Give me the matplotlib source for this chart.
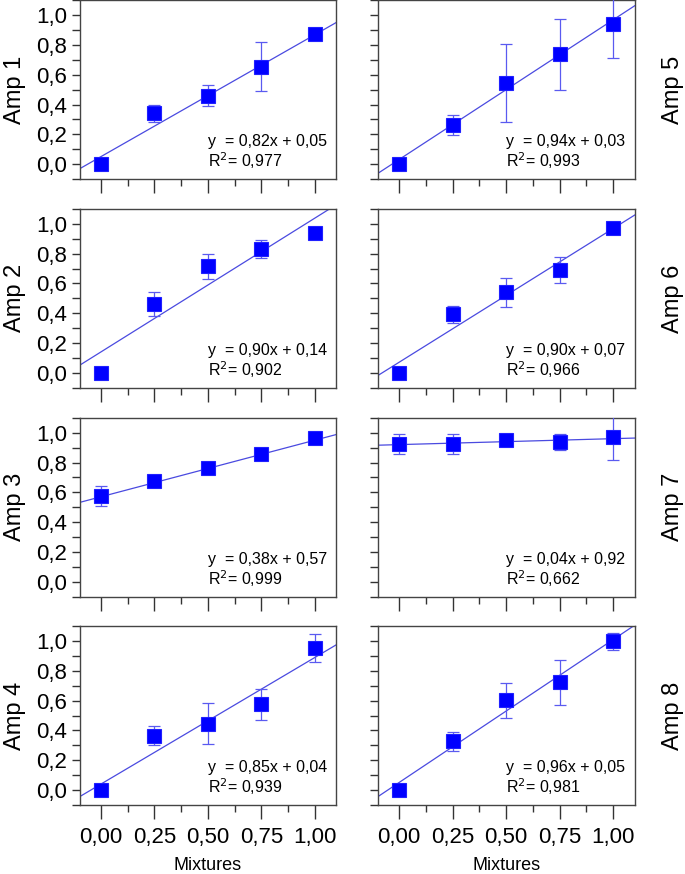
import matplotlib
matplotlib.use('Agg')
import matplotlib.pyplot as plt
from matplotlib.ticker import FixedLocator, MultipleLocator, FuncFormatter

plt.rcParams['font.family'] = ['Liberation Sans', 'DejaVu Sans']

mixtures = [0.0, 0.25, 0.5, 0.75, 1.0]
x_ticks = [0.0, 0.25, 0.5, 0.75, 1.0]
y_ticks = [0.0, 0.2, 0.4, 0.6, 0.8, 1.0]

amp_names = ['Amp 1', 'Amp 2', 'Amp 3', 'Amp 4', 'Amp 5', 'Amp 6', 'Amp 7', 'Amp 8']

amp1 = [0.0, 0.34, 0.46, 0.655, 0.875]
amp1_err = [0.0, 0.06, 0.07, 0.163, 0.04]
amp2 = [0.0, 0.462, 0.717, 0.834, 0.942]
amp2_err = [0.0, 0.083, 0.084, 0.06, 0.0]
amp3 = [0.575, 0.676, 0.765, 0.859, 0.962]
amp3_err = [0.065, 0.0, 0.0, 0.0, 0.0]
amp4 = [0.0, 0.365, 0.446, 0.574, 0.953]
amp4_err = [0.0, 0.065, 0.137, 0.104, 0.091]
amp5 = [0.0, 0.262, 0.547, 0.738, 0.94]
amp5_err = [0.0, 0.07, 0.262, 0.238, 0.23]
amp6 = [0.0, 0.392, 0.54, 0.691, 0.971]
amp6_err = [0.0, 0.056, 0.098, 0.09, 0.0]
amp7 = [0.922, 0.926, 0.951, 0.935, 0.969]
amp7_err = [0.066, 0.066, 0.0, 0.053, 0.15]
amp8 = [0.0, 0.327, 0.601, 0.724, 0.998]
amp8_err = [0.0, 0.064, 0.118, 0.151, 0.056]

slopes = [0.82, 0.90, 0.38, 0.85, 0.94, 0.90, 0.04, 0.96]
intercepts = [0.05, 0.14, 0.57, 0.04, 0.03, 0.07, 0.92, 0.05]
r2 = ['0,977', '0,902', '0,999', '0,939', '0,993', '0,966', '0,662', '0,981']

values = [amp1, amp2, amp3, amp4, amp5, amp6, amp7, amp8]
errors = [amp1_err, amp2_err, amp3_err, amp4_err, amp5_err, amp6_err, amp7_err, amp8_err]

W, H = 685, 874
col_lr = [(79.6, 336.4), (377.6, 634.7)]
row_tb = [(0.4, 178.9), (209.1, 387.6), (417.8, 596.6), (626.1, 804.9)]

BLUE = '#0000ff'
LINE_BLUE = '#4a4ae0'
ERR_BLUE = '#5a5af0'


def comma(v, _pos, digits):
    return f'{v:.{digits}f}'.replace('.', ',')


def fmt_num(v):
    return f'{v:.2f}'.replace('.', ',')


fig = plt.figure(figsize=(W / 100, H / 100), dpi=100)

for i, name in enumerate(amp_names):
    col = i // 4
    row = i % 4
    l, r = col_lr[col]
    t, b = row_tb[row]
    ax = fig.add_axes([l / W, 1 - b / H, (r - l) / W, (b - t) / H])

    xlim = (-0.1, 1.1)
    ax.plot(xlim, [slopes[i] * x + intercepts[i] for x in xlim],
            color=LINE_BLUE, lw=0.9, zorder=2)
    ax.errorbar(mixtures, values[i], yerr=errors[i], fmt='none',
                ecolor=ERR_BLUE, elinewidth=0.9, capsize=4, capthick=0.9, zorder=3)
    ax.plot(mixtures, values[i], 's', color=BLUE, ms=9.5, mec='#2020ff', mew=0.8, zorder=4)

    ax.set_xlim(*xlim)
    ax.set_ylim(-0.1, 1.1)

    ax.xaxis.set_major_locator(FixedLocator(x_ticks))
    ax.xaxis.set_minor_locator(MultipleLocator(0.125))
    ax.yaxis.set_major_locator(FixedLocator(y_ticks))
    ax.yaxis.set_minor_locator(MultipleLocator(0.1))
    ax.xaxis.set_major_formatter(FuncFormatter(lambda v, p: comma(v, p, 2)))
    ax.yaxis.set_major_formatter(FuncFormatter(lambda v, p: comma(v, p, 1)))

    ax.tick_params(axis='x', which='major', direction='out', length=10, width=1,
                   labelsize=16, pad=6, color='#333333')
    ax.tick_params(axis='x', which='minor', direction='out', length=5, width=1, color='#333333')
    ax.tick_params(axis='y', which='both', direction='out', length=6, width=1,
                   labelsize=16, pad=3, color='#333333')
    if row != 3:
        ax.tick_params(axis='x', labelbottom=False)
    if col == 1:
        ax.tick_params(axis='y', labelleft=False)

    for sp in ax.spines.values():
        sp.set_color('#444444')
        sp.set_linewidth(1)

    ax.text(0.5, 0.208, f'y  = {fmt_num(slopes[i])}x + {fmt_num(intercepts[i])}',
            transform=ax.transAxes, fontsize=11.5, va='center', ha='left')
    ax.text(0.5, 0.1, f'R$^{{2}}$= {r2[i]}',
            transform=ax.transAxes, fontsize=11.5, va='center', ha='left')

    yc = 1 - (t + b) / 2 / H
    if col == 0:
        fig.text(14.5 / W, yc, name, rotation=90, fontsize=17, ha='center', va='center')
    else:
        fig.text(672.5 / W, yc, name, rotation=90, fontsize=17, ha='center', va='center')

    if row == 3:
        fig.text((l + r) / 2 / W, 1 - 866 / H, 'Mixtures', fontsize=13,
                 ha='center', va='center')

fig.savefig('out.png', dpi=100)
